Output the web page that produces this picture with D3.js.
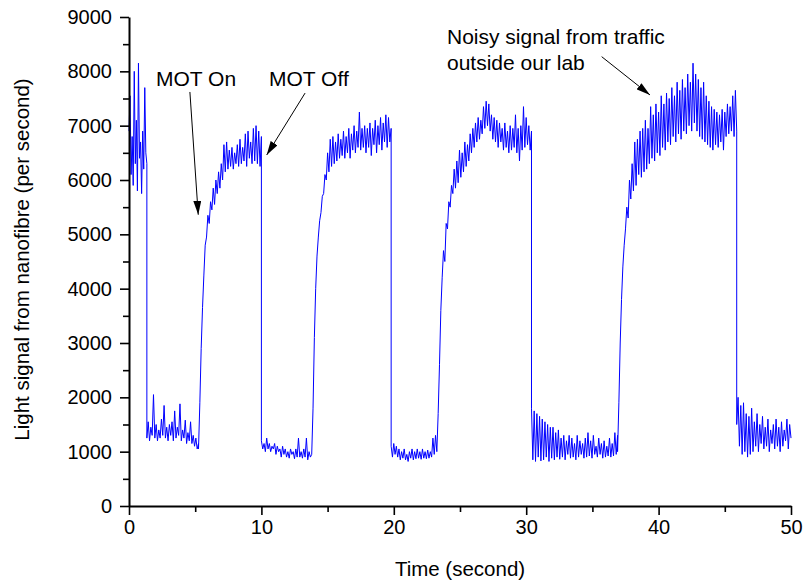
<!DOCTYPE html>
<html>
<head>
<meta charset="utf-8">
<script src="https://cdn.jsdelivr.net/npm/d3@7"></script>
<style>
  body { margin: 0; background: #fff; }
  svg { font-family: "Liberation Sans", Arial, sans-serif; }
</style>
</head>
<body>
<div id="wrapper"></div>
<script>
// time span of each phase (seconds)
const phaseSpans = [
  [0, 1.35], [1.35, 5.25], [5.25, 10.0], [10.0, 13.8], [13.8, 19.8],
  [19.8, 23.25], [23.25, 30.4], [30.4, 36.9], [36.9, 45.9], [45.9, 50.0]
];

// counts per second in each phase
const onStart = [6900, 7550, 6100, 6800, 5900, 8000, 6300, 7100, 5800, 8150, 6400, 6700, 5750, 6900, 6200, 7700, 6500, 6300];
const off1 = [1250, 1550, 1200, 1450, 1300, 2050, 1250, 1500, 1200, 1400, 1250, 1600, 1300, 1850, 1250, 1450, 1200, 1500, 1300, 1550,
  1200, 1750, 1250, 1450, 1300, 1880, 1200, 1400, 1250, 1580, 1150, 1350, 1200, 1550, 1150, 1300, 1100, 1250, 1050, 1150];
const on1 = [1050, 1900, 2900, 3650, 4250, 4800, 4950, 5350, 5200, 5600, 5450, 5850, 5550, 6000, 5750, 6150, 5850, 6300, 6000, 6650,
  6150, 6700, 6200, 6550, 6250, 6600, 6200, 6500, 6300, 6650, 6250, 6750, 6300, 6600, 6350, 6850, 6250, 6900, 6400, 6700,
  6300, 6950, 6350, 7000, 6300, 6900, 6250, 6800];
const off2 = [1200, 1050, 1150, 1000, 1250, 1050, 1150, 1000, 1100, 1050, 1150, 950, 1100, 1000, 1050, 900, 1100, 950, 1050, 900,
  1000, 880, 1050, 950, 1000, 870, 1050, 900, 1250, 900, 1000, 880, 1050, 900, 1250, 850, 1000, 900, 950];
const on2 = [950, 1800, 3100, 4000, 4600, 4950, 5250, 5400, 5700, 5750, 6100, 6000, 6500, 6150, 6750, 6250, 6800, 6300, 6700, 6350,
  6850, 6400, 6750, 6450, 6900, 6400, 6800, 6500, 6950, 6400, 6850, 6550, 7000, 6500, 6900, 6600, 7250, 6550, 6950, 6600,
  7000, 6500, 6950, 6600, 7050, 6450, 6950, 6650, 7100, 6500, 7000, 6650, 7150, 6550, 7050, 6700, 7200, 6600, 7150, 6700, 6950];
const off3 = [1100, 900, 1150, 950, 1100, 900, 1050, 850, 1000, 880, 1050, 850, 950, 820, 1000, 880, 1050, 850, 1000, 870,
  1050, 880, 1000, 860, 1050, 880, 1000, 870, 1030, 880, 1000, 900, 1250, 950, 1300, 1000];
const on3 = [1000, 1700, 2600, 3600, 4200, 4700, 4500, 5200, 5100, 5600, 5500, 5900, 5750, 6200, 5850, 6350, 5950, 6550, 6050, 6500,
  6150, 6700, 6250, 6650, 6350, 6850, 6500, 6950, 6600, 7050, 6700, 7150, 6750, 7100, 6850, 7350, 6950, 7450, 7000, 7400,
  6900, 7200, 6750, 7150, 6700, 7100, 6600, 7050, 6700, 6950, 6550, 7050, 6600, 6900, 6500, 7000, 6550, 6950, 6600, 7200,
  6500, 6950, 6350, 7000, 6550, 7350, 6600, 7150, 6650, 7000, 6550, 6900];
const off4 = [1800, 850, 1750, 820, 1700, 900, 1650, 830, 1600, 850, 1550, 900, 1500, 820, 1450, 880, 1450, 850, 1350, 900,
  1400, 860, 1250, 900, 1300, 850, 1200, 950, 1300, 880, 1250, 900, 1150, 850, 1300, 900, 1200, 950, 1150, 880,
  1250, 900, 1350, 920, 1200, 880, 1300, 950, 1100, 900, 1250, 950, 1150, 880, 1200, 900, 1100, 920, 1250, 900,
  1150, 920, 1350, 950, 1300];
const on4 = [1000, 1900, 3000, 3800, 4400, 4800, 5100, 5500, 5300, 6000, 5650, 6300, 5800, 6700, 5900, 6750, 6100, 6900, 6050, 6950,
  6150, 7100, 6200, 6950, 6300, 7350, 6400, 7200, 6350, 7400, 6500, 7250, 6450, 7550, 6600, 7400, 6550, 7600, 6700, 7500,
  6650, 7700, 6800, 7550, 6700, 7800, 6850, 7650, 6750, 7850, 6900, 7700, 6850, 7950, 7000, 7800, 6900, 8150, 7050, 7950,
  6900, 7850, 6800, 7700, 6750, 7800, 6700, 7550, 6650, 7450, 6600, 7350, 6550, 7300, 6650, 7250, 6600, 7200, 6700, 7300,
  6550, 7250, 6800, 7400, 6850, 7350, 6900, 7550, 6800, 7650, 6900];
const off5 = [1500, 2000, 1100, 1850, 950, 1900, 1000, 1700, 900, 1650, 950, 1800, 1000, 1550, 1100, 1700, 1000, 1500, 1150, 1650,
  1050, 1450, 1100, 1600, 1000, 1400, 1150, 1500, 1050, 1600, 1100, 1450, 1000, 1550, 1100, 1400, 1200, 1600, 1050, 1500, 1250];

const phaseValues = [onStart, off1, on1, off2, on2, off3, on3, off4, on4, off5];

const xTicks = [0, 10, 20, 30, 40, 50];
const yTicks = [0, 1000, 2000, 3000, 4000, 5000, 6000, 7000, 8000, 9000];

// spread each phase's samples evenly over its time span
const dataset = [];
phaseValues.forEach((vals, i) => {
  const [t0, t1] = phaseSpans[i];
  const step = (t1 - t0) / (vals.length - 1);
  vals.forEach((v, j) => dataset.push({ t: t0 + j * step, v: v }));
});

const xAccessor = d => d.t;
const yAccessor = d => d.v;

let dimensions = {
  width: 806,
  height: 586,
  margin: { top: 17, right: 15, bottom: 80, left: 129 },
};
dimensions.boundedWidth = dimensions.width - dimensions.margin.left - dimensions.margin.right;
dimensions.boundedHeight = dimensions.height - dimensions.margin.top - dimensions.margin.bottom;

const wrapper = d3.select("#wrapper")
  .append("svg")
  .attr("width", dimensions.width)
  .attr("height", dimensions.height);

const defs = wrapper.append("defs");
defs.append("marker")
  .attr("id", "head")
  .attr("viewBox", "0 0 14 8")
  .attr("refX", 14)
  .attr("refY", 4)
  .attr("markerWidth", 14)
  .attr("markerHeight", 8)
  .attr("markerUnits", "userSpaceOnUse")
  .attr("orient", "auto")
  .append("path")
  .attr("d", "M0,0 L14,4 L0,8 Z")
  .attr("fill", "black");

const bounds = wrapper.append("g")
  .attr("transform", `translate(${dimensions.margin.left},${dimensions.margin.top})`);

const xScaler = d3.scaleLinear()
  .domain([0, 50])
  .range([0, dimensions.boundedWidth]);

const yScaler = d3.scaleLinear()
  .domain([0, 9000])
  .range([dimensions.boundedHeight, 0]);

// signal trace
const lineGen = d3.line()
  .x(d => xScaler(xAccessor(d)))
  .y(d => yScaler(yAccessor(d)));

bounds.append("path")
  .datum(dataset)
  .attr("d", lineGen)
  .attr("fill", "none")
  .attr("stroke", "#0000ff")
  .attr("stroke-width", 1);

// axes
const xMinor = d3.range(5, 50, 10);
const yMinor = d3.range(500, 9000, 1000);

bounds.append("g")
  .attr("transform", `translate(0,${dimensions.boundedHeight})`)
  .call(d3.axisBottom(xScaler).tickValues(xTicks).tickSize(9).tickSizeOuter(0).tickPadding(5).tickFormat(d3.format("d")));
bounds.append("g")
  .attr("transform", `translate(0,${dimensions.boundedHeight})`)
  .call(d3.axisBottom(xScaler).tickValues(xMinor).tickSize(6).tickFormat(""))
  .select(".domain").remove();

bounds.append("g")
  .call(d3.axisLeft(yScaler).tickValues(yTicks).tickSize(9).tickSizeOuter(0).tickPadding(8).tickFormat(d3.format("d")));
bounds.append("g")
  .call(d3.axisLeft(yScaler).tickValues(yMinor).tickSize(6).tickFormat(""))
  .select(".domain").remove();

bounds.selectAll(".domain").attr("stroke", "black").attr("stroke-width", 2);
bounds.selectAll(".tick line").attr("stroke", "black").attr("stroke-width", 1.6);
bounds.selectAll(".tick text")
  .attr("fill", "black")
  .attr("font-size", "20px")
  .attr("font-family", "Liberation Sans, Arial, sans-serif");

// axis titles
wrapper.append("text")
  .attr("x", dimensions.margin.left + dimensions.boundedWidth / 2)
  .attr("y", 576)
  .attr("text-anchor", "middle")
  .attr("font-size", "20.5px")
  .text("Time (second)");

wrapper.append("text")
  .attr("transform", `translate(29,${dimensions.margin.top + dimensions.boundedHeight / 2 - 2}) rotate(-90)`)
  .attr("text-anchor", "middle")
  .attr("font-size", "20.5px")
  .text("Light signal from nanofibre (per second)");

// annotations
const notes = [
  { lines: ["MOT On"], x: 156, y: 86, from: [4.6, 7620], to: [5.23, 5360] },
  { lines: ["MOT Off"], x: 269, y: 86, from: [13.3, 7600], to: [10.4, 6460] },
  { lines: ["Noisy signal from traffic", "outside our lab"], x: 447, y: 44, from: [35.7, 8270], to: [39.35, 7565] },
];

notes.forEach(n => {
  const label = bounds.append("text")
    .attr("font-size", "21px")
    .attr("fill", "black");
  n.lines.forEach((s, i) => {
    label.append("tspan")
      .attr("x", n.x - dimensions.margin.left)
      .attr("y", n.y - dimensions.margin.top + i * 26)
      .text(s);
  });
  bounds.append("line")
    .attr("x1", xScaler(n.from[0]))
    .attr("y1", yScaler(n.from[1]))
    .attr("x2", xScaler(n.to[0]))
    .attr("y2", yScaler(n.to[1]))
    .attr("stroke", "black")
    .attr("stroke-width", 1)
    .attr("marker-end", "url(#head)");
});
</script>
</body>
</html>
